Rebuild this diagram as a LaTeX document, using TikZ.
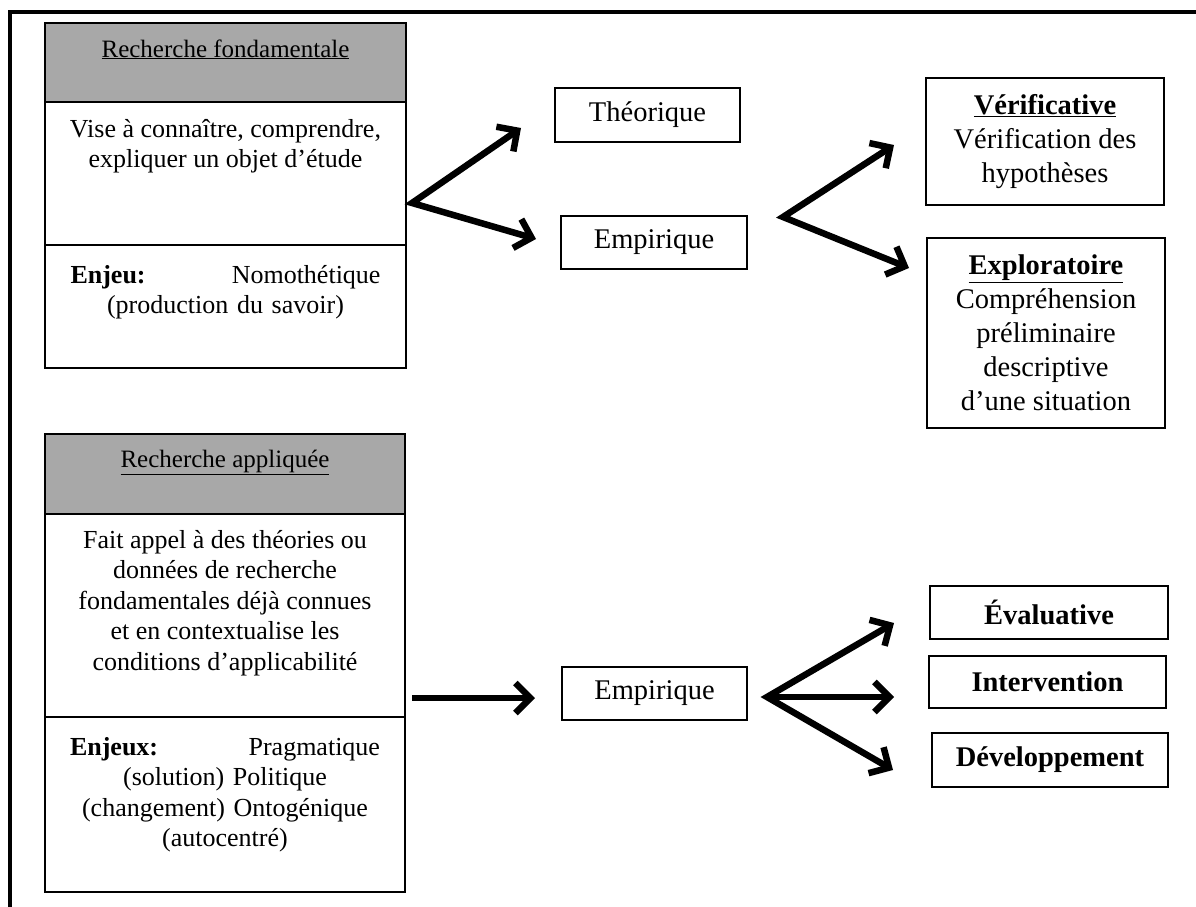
\documentclass[tikz,border=0pt]{standalone}
\usepackage{fontspec}
\setmainfont{Liberation Serif}
\usepackage{xcolor}
\usetikzlibrary{arrows.meta}

\definecolor{headgrey}{RGB}{168,168,168}

\begin{document}
\begin{tikzpicture}[x=1pt, y=-1pt,
  cell/.style={draw, line width=1.5pt, inner sep=0pt},
  headtxt/.style={font=\fontsize{25}{30}\selectfont, inner sep=0pt},
  bodytxt/.style={font=\fontsize{26}{30.5}\selectfont, align=center, inner sep=0pt},
  typebox/.style={draw, line width=1.5pt, align=center, inner sep=0pt,
    font=\fontsize{28.5}{34}\selectfont},
  fork/.style={line width=6.5pt, line join=miter,
    arrows={Straight Barb[length=15pt,width=30pt]-Straight Barb[length=15pt,width=30pt]}},
  fwd/.style={line width=6.5pt, -{Straight Barb[length=15pt,width=30pt]}}]
\useasboundingbox (0,0) rectangle (1196,907);

% outer frame
\draw[line width=4pt] (1196,12) -- (10,12) -- (10,907);

% recherche fondamentale
\node[cell, fill=headgrey, minimum width=361, minimum height=79] (fondhead) at (225.5,62.5) {};
\node[cell, minimum width=361, minimum height=143] (fondbody) at (225.5,173.5) {};
\node[cell, minimum width=361, minimum height=123] (fondstake) at (225.5,306.5) {};
\node[headtxt, anchor=base] (fondtitle) at (225.5,57) {\underline{Recherche fondamentale}};
\node[bodytxt, anchor=north] (fondtxt) at (225.5,119) {Vise à connaître, comprendre,\\ expliquer un objet d’étude};
\node[bodytxt, anchor=north, text width=310] (fondenjeu) at (225.5,265)
  {\textbf{Enjeu:}\hfill Nomothétique\\ (production du savoir)};

% recherche appliquee
\node[cell, fill=headgrey, minimum width=360, minimum height=80] (applhead) at (225,474) {};
\node[cell, minimum width=360, minimum height=203] (applbody) at (225,615.5) {};
\node[cell, minimum width=360, minimum height=175] (applstake) at (225,804.5) {};
\node[headtxt, anchor=base] (appltitle) at (225,467) {\underline{Recherche appliquée}};
\node[bodytxt, anchor=north] (appltxt) at (225,530) {Fait appel à des théories ou\\ données de recherche\\
  fondamentales déjà connues\\ et en contextualise les\\ conditions d’applicabilité};
\node[bodytxt, anchor=north, text width=310] (applenjeu) at (225,737)
  {\textbf{Enjeux:}\hfill Pragmatique\\ (solution) Politique\\ (changement) Ontogénique\\ (autocentré)};

% types
\node[typebox, minimum width=185, minimum height=54] (theo) at (647.5,115) {Théorique};
\node[typebox, minimum width=186, minimum height=53] (empfond) at (654,242.5) {Empirique};
\node[typebox, minimum width=185, minimum height=53] (empappl) at (654.5,693.5) {Empirique};

\node[typebox, minimum width=238, minimum height=127] (verif) at (1045,141.5)
  {\textbf{\underline{Vérificative}}\\ Vérification des\\ hypothèses};
\node[typebox, minimum width=238, minimum height=190] (explor) at (1046,333)
  {\textbf{\underline{Exploratoire}}\\ Compréhension\\ préliminaire\\ descriptive\\ d’une situation};

\node[typebox, minimum width=238, minimum height=53] (evalu) at (1049,612.5) {\textbf{Évaluative}};
\node[typebox, minimum width=237, minimum height=52] (interv) at (1047.5,682) {\textbf{Intervention}};
\node[typebox, minimum width=236, minimum height=54] (devel) at (1050,760) {\textbf{Développement}};

% arrows
\coordinate (fondfork) at (412,203);
\coordinate (theotip) at (521,128);
\coordinate (emptip) at (536,239);
\coordinate (empfork) at (783,217);
\coordinate (veriftip) at (894,145);
\coordinate (explortip) at (909,268);
\coordinate (applstart) at (412,698);
\coordinate (appltip) at (535,698);
\coordinate (applfork) at (767,697);
\coordinate (evalutip) at (894,623);
\coordinate (intervtip) at (894,697);
\coordinate (develtip) at (893,770);

\draw[fork] (theotip) -- (fondfork) -- (emptip);
\draw[fork] (veriftip) -- (empfork) -- (explortip);
\draw[fwd] (applstart) -- (appltip);
\draw[fork] (evalutip) -- (applfork) -- (develtip);
\draw[fwd] (applfork) -- (intervtip);
\end{tikzpicture}
\end{document}
